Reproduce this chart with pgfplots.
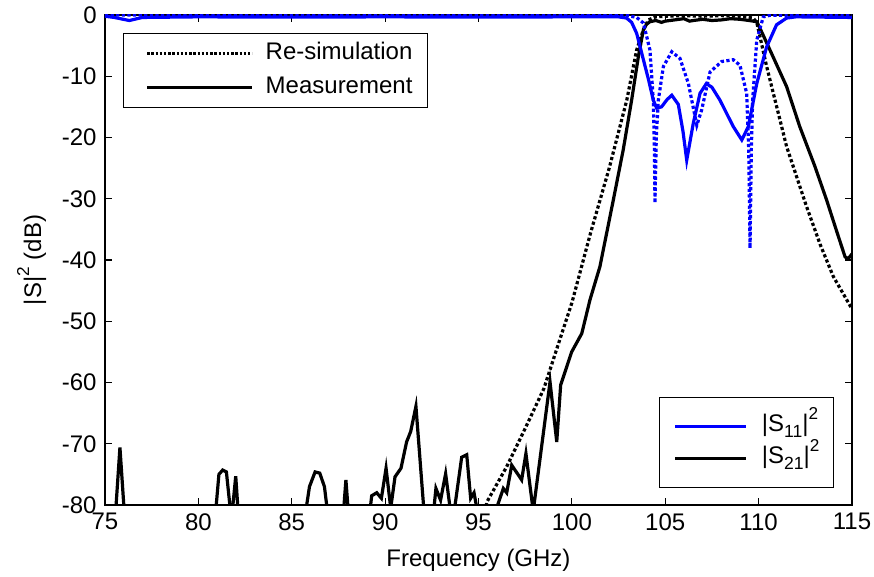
\documentclass[border=0pt,12pt]{standalone}
\usepackage{pgfplots}
\pgfplotsset{compat=1.18}
\usepackage{fontspec}
\setmainfont{Liberation Sans}

\newcommand{\sps}{\raisebox{0.5em}{\fontsize{8.6}{9}\selectfont 2}}
\newcommand{\sbs}[1]{\raisebox{-0.26em}{\fontsize{8.8}{9}\selectfont #1}}

% measured |S21|^2 (solid black)
\pgfplotstableread{
f s
75.0 -85
75.55 -82
75.8 -70.6
76.05 -82
80.9 -82
81.1 -75
81.3 -74.3
81.5 -74.6
81.72 -81
81.85 -80
82.0 -75.3
82.15 -82
85.7 -82
85.95 -77
86.25 -74.6
86.5 -74.8
86.75 -77
86.95 -82
87.75 -82
87.9 -75.9
88.05 -82
89.15 -82
89.28 -78.5
89.55 -78.0
89.8 -78.9
90.05 -74.0
90.3 -80.5
90.53 -75.4
90.85 -74.0
91.15 -69.7
91.37 -68.0
91.65 -63.9
92.08 -81
92.6 -81
92.72 -77.3
92.97 -79.2
93.24 -74.9
93.5 -81
93.7 -81
94.1 -72.2
94.37 -71.8
94.58 -78.9
94.76 -78.0
94.94 -81
95.9 -81
96.06 -79.7
96.33 -77.3
96.51 -78.0
96.78 -73.5
97.31 -75.9
97.54 -71.6
97.93 -81
98.83 -59.9
99.19 -69.7
99.4 -60.4
99.99 -55.0
100.53 -52.0
100.97 -46.5
101.5 -41.1
102.22 -30.2
102.75 -22.0
103.2 -13.9
103.56 -6.8
103.83 -2.4
104.0 -1.5
104.18 -1.1
104.5 -0.9
104.8 -1.2
105.0 -1.0
105.5 -0.8
106.0 -0.6
106.3 -1.0
106.5 -0.9
107.0 -0.7
107.5 -0.9
108.0 -0.8
108.5 -0.6
109.0 -0.7
109.5 -0.9
109.9 -1.1
110.2 -3.0
110.77 -6.8
111.5 -11.7
112.2 -18.2
113.0 -24.6
113.64 -30.2
114.2 -35.5
114.63 -39.5
114.8 -39.8
115.0 -39.0
}\meassparam

% re-simulated |S21|^2 (dotted black)
\pgfplotstableread{
f s
95.3 -82
95.45 -79.5
96.5 -73.8
97.5 -67.5
98.5 -61.0
99.3 -53.5
100.0 -47.0
101.0 -35.6
102.0 -25.0
102.94 -13.9
103.47 -5.7
103.83 -2.4
104.1 -0.8
104.5 -0.3
105.0 -0.2
106.0 -0.1
107.0 -0.2
108.0 -0.1
109.0 -0.2
109.7 -0.5
109.9 -1.2
110.43 -8.4
111.5 -21.5
112.57 -31.3
113.3 -37.5
114.0 -42.7
115.0 -48.0
}\simsparam

% measured |S11|^2 (solid blue)
\pgfplotstableread{
f s
75.0 -0.2
75.5 -0.4
76.3 -0.9
77.0 -0.4
80.0 -0.3
85.0 -0.35
90.0 -0.3
95.0 -0.35
100.0 -0.3
102.5 -0.3
102.93 -0.5
103.2 -1.2
103.47 -3.0
103.83 -7.3
104.1 -10.5
104.36 -13.9
104.54 -15.2
104.8 -15.0
105.1 -13.8
105.35 -13.1
105.7 -14.6
105.95 -19.0
106.15 -23.7
106.5 -17.7
106.86 -12.8
107.2 -11.2
107.5 -11.8
107.93 -13.9
108.64 -18.2
109.1 -20.4
109.45 -18.2
109.9 -11.2
110.43 -5.2
110.96 -1.6
111.5 -0.5
112.0 -0.3
115.0 -0.4
}\meassone

% re-simulated |S11|^2 (dotted blue)
\pgfplotstableread{
f s
75.0 0
103.0 -0.1
103.47 -0.4
103.83 -1.3
104.18 -5.7
104.36 -13.9
104.42 -22
104.45 -30.7
104.52 -20
104.63 -13.9
104.9 -8.4
105.35 -6.0
105.79 -7.1
106.24 -11.2
106.69 -18.0
106.95 -15.5
107.4 -9.3
108.02 -7.6
108.64 -7.3
109.0 -8.2
109.36 -12.8
109.47 -22
109.54 -38.1
109.61 -22
109.68 -13.9
109.9 -4.1
110.25 -0.3
110.6 -0.05
115.0 0
}\simsone

\begin{document}
\begin{tikzpicture}
\useasboundingbox (-52.5pt,-36pt) rectangle (384.5pt,252.5pt);
\pgfplotsset{
  every axis/.append style={
    scale only axis,
    width=373.5pt, height=245pt,
    xmin=75, xmax=115, ymin=-80, ymax=0,
  },
}
\begin{axis}[
    axis line style={line width=0.6pt},
    xtick={75,80,...,115},
    ytick={-80,-70,...,0},
    tick align=inside,
    tick pos=both,
    major tick length=3.5pt,
    every tick/.style={black, line width=0.6pt},
    /pgf/number format/assume math mode=true,
    xlabel={Frequency (GHz)},
    ylabel={|S|\sps{} (dB)},
    xlabel style={at={(axis description cs:0.5,-0.112)}, anchor=center},
    ylabel style={at={(axis description cs:-0.098,0.5)}, anchor=center},
    legend style={at={(0.976,0.035)}, anchor=south east, draw=black,
      line width=0.6pt, inner xsep=7pt, inner ysep=7pt,
      nodes={inner sep=0pt, text height=10pt, text depth=5pt},
      row sep=1pt},
    legend cell align=left,
    legend image code/.code={\path (0pt,0pt) (42.5pt,0pt); \draw[#1] (0pt,0pt) -- (35.5pt,0pt);},
]
\addplot[black, line width=1.6pt, dash pattern=on 1.6pt off 1.2pt, forget plot] table[x=f, y=s] {\simsparam};
\addplot[black, line width=1.6pt, forget plot] table[x=f, y=s] {\meassparam};
\addplot[blue, line width=1.6pt, dash pattern=on 1.6pt off 1.2pt, forget plot] table[x=f, y=s] {\simsone};
\addplot[blue, line width=1.6pt, forget plot] table[x=f, y=s] {\meassone};
\addlegendimage{blue, line width=1.6pt}
\addlegendentry{|S\sbs{11}|\sps}
\addlegendimage{black, line width=1.6pt}
\addlegendentry{|S\sbs{21}|\sps}
\end{axis}
\begin{axis}[
    hide axis,
    legend style={at={(0.024,0.963)}, anchor=north west, draw=black,
      line width=0.6pt, inner xsep=7.5pt, inner ysep=4pt,
      nodes={inner sep=0pt, text height=9pt, text depth=3pt},
      row sep=5pt},
    legend cell align=left,
    legend image code/.code={\path (0pt,0pt) (62pt,0pt); \draw[#1] (3.5pt,0pt) -- (56pt,0pt);},
]
\addlegendimage{black, line width=1.3pt, dash pattern=on 1.2pt off 0.9pt}
\addlegendentry{Re-simulation}
\addlegendimage{black, line width=1.6pt}
\addlegendentry{Measurement}
\end{axis}
\end{tikzpicture}
\end{document}
